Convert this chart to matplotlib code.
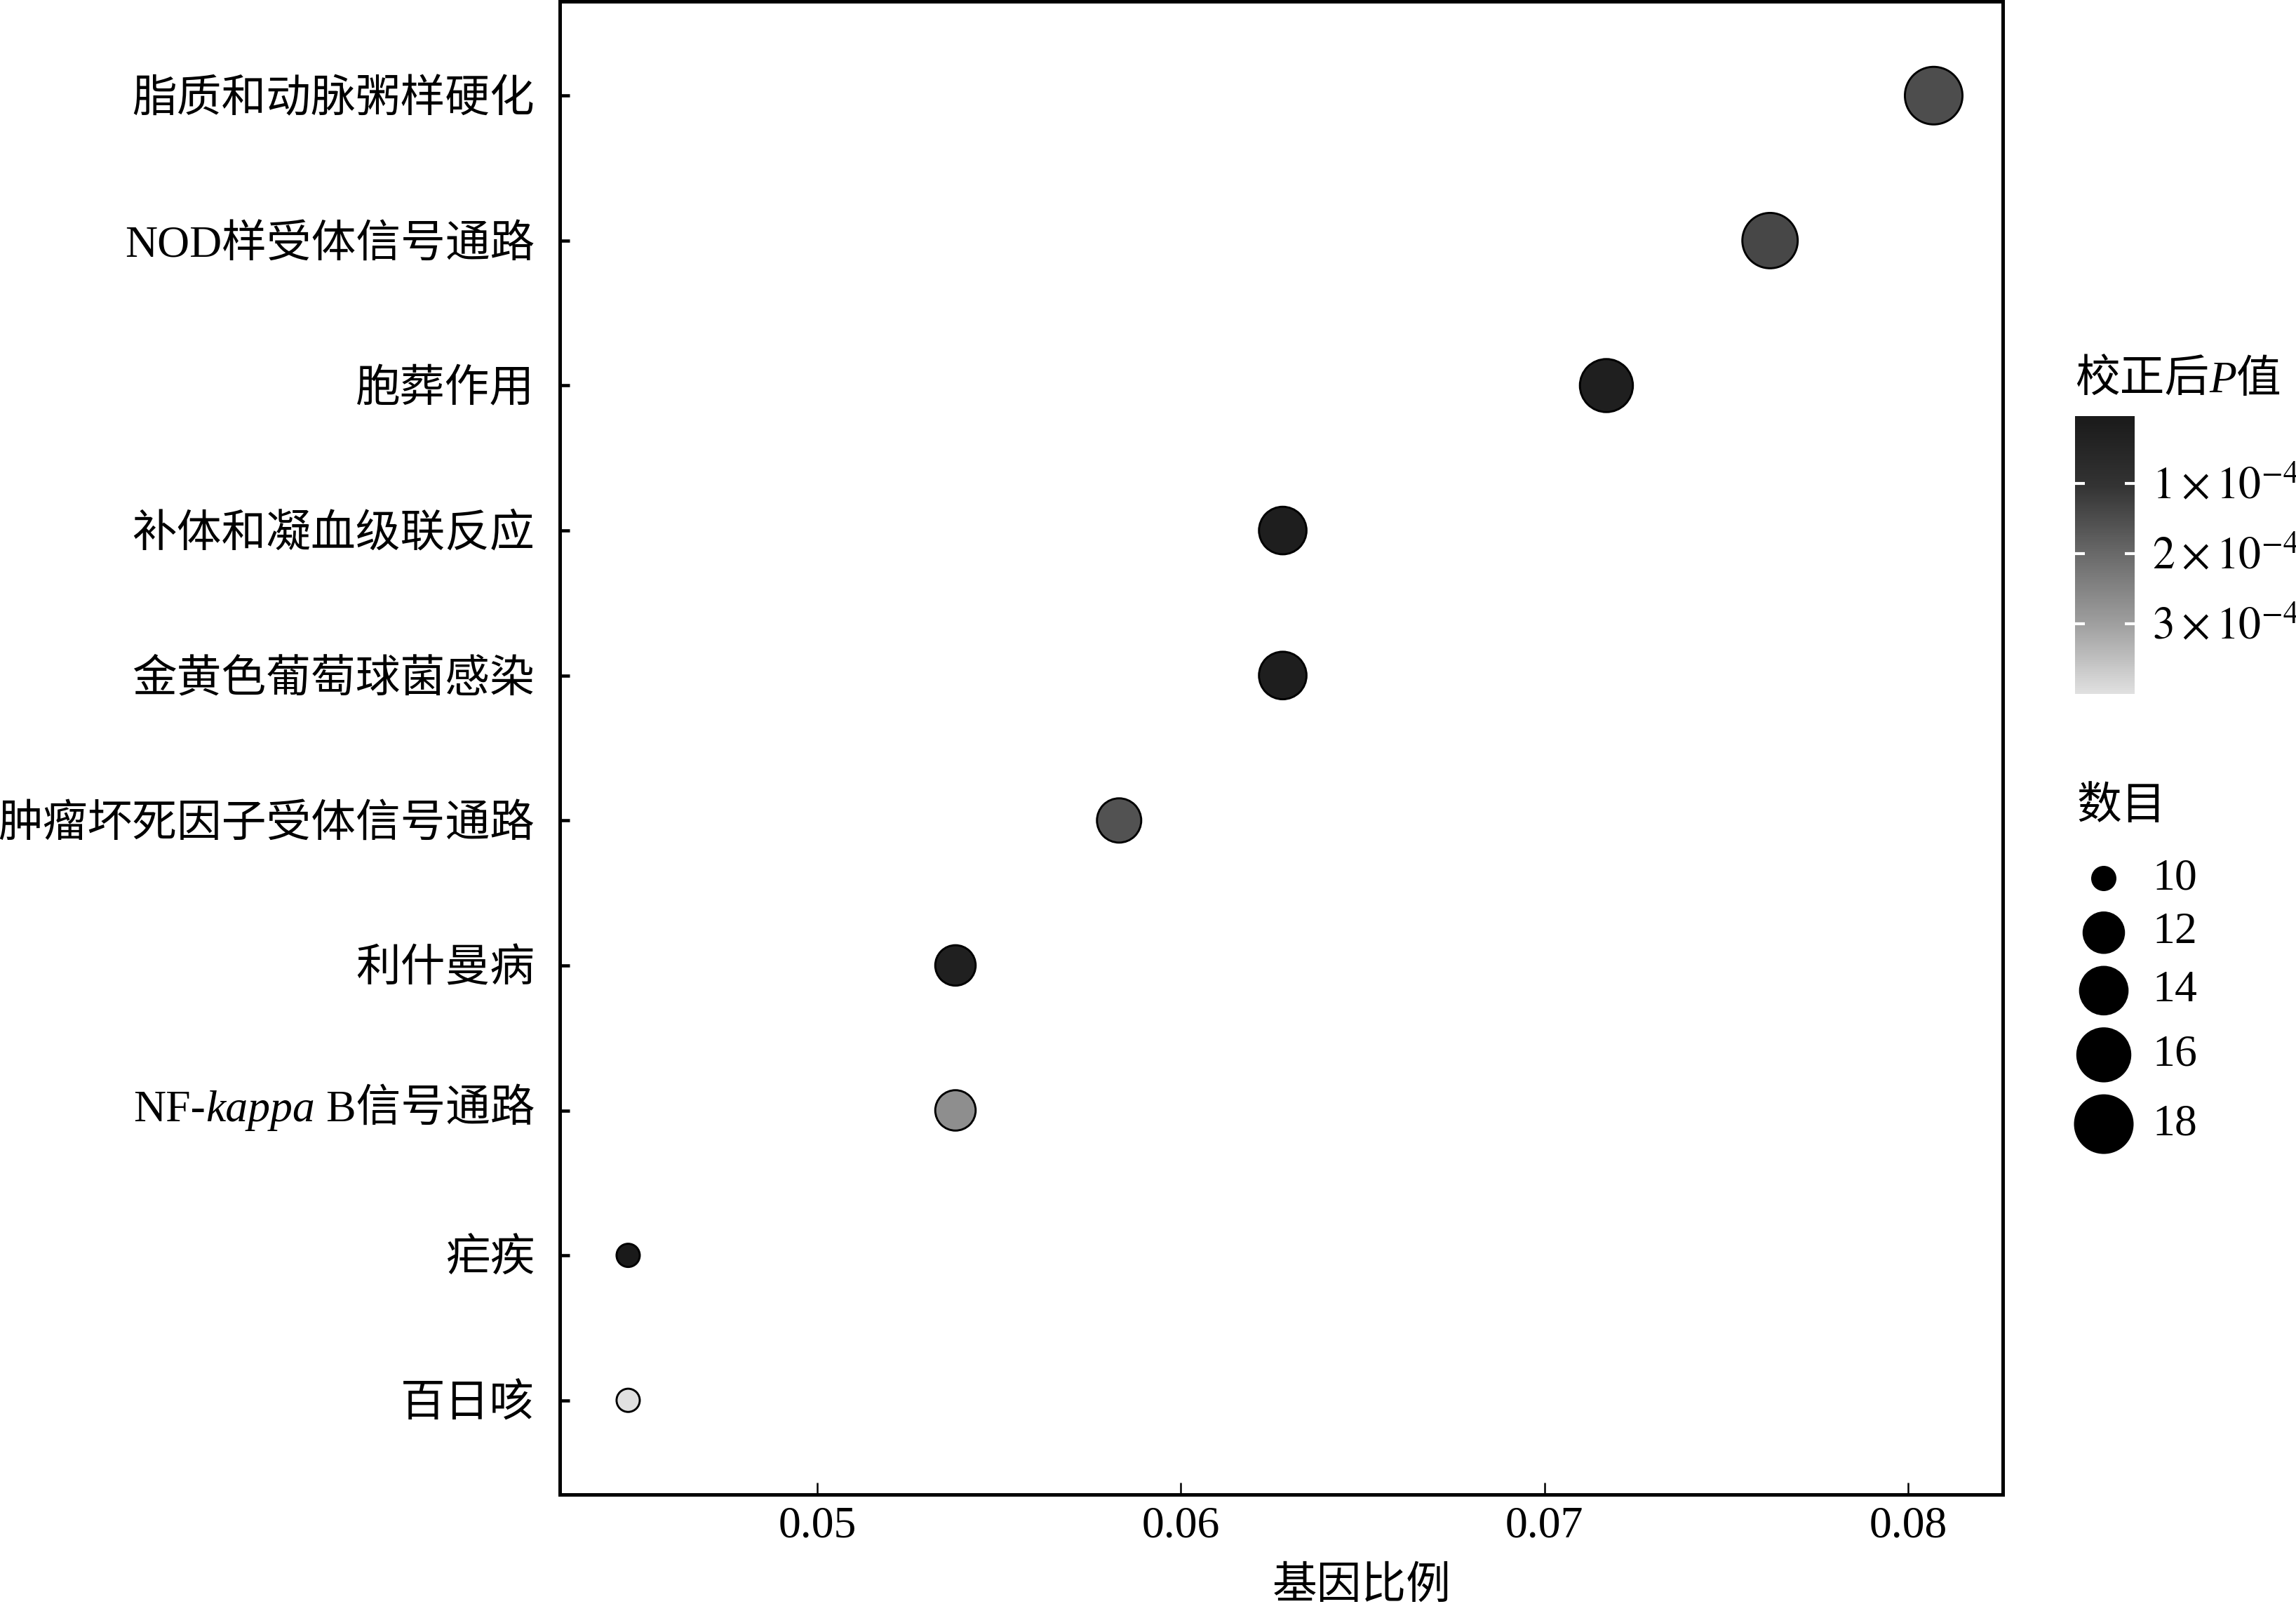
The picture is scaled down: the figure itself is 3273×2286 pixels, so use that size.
import numpy as np
import matplotlib.pyplot as plt
from matplotlib.colors import LinearSegmentedColormap, Normalize
from matplotlib.offsetbox import TextArea, HPacker, AnnotationBbox

plt.rcParams['font.family'] = ['Liberation Serif', 'Noto Sans CJK SC']
plt.rcParams['mathtext.fontset'] = 'stix'

# 数据
pathways = ['脂质和动脉粥样硬化', 'NOD样受体信号通路', '胞葬作用', '补体和凝血级联反应',
            '金黄色葡萄球菌感染', '肿瘤坏死因子受体信号通路', '利什曼病', 'NF-kappa B信号通路',
            '疟疾', '百日咳']
gene_ratio = [0.0807, 0.0762, 0.0717, 0.0628, 0.0628, 0.0583, 0.0538, 0.0538, 0.0448, 0.0448]
counts = [18, 17, 16, 14, 14, 13, 12, 12, 10, 10]
p_adjust = [1.5e-4, 1.4e-4, 2.5e-5, 2.0e-5, 2.2e-5, 1.6e-4, 3.0e-5, 2.7e-4, 4.0e-6, 4.0e-4]
size_breaks = [10, 12, 14, 16, 18]
cbar_ticks = [1e-4, 2e-4, 3e-4]
cbar_labels = [r'$1\times10^{-4}$', r'$2\times10^{-4}$', r'$3\times10^{-4}$']
x_ticks = [0.05, 0.06, 0.07, 0.08]

DPI = 300
FS = 15.3
W, H = 3273, 2286


def diam_px(c):
    # ggplot 风格面积缩放
    c = np.asarray(c, dtype=float)
    return 36 + 49 * np.sqrt((c - min(counts)) / (max(counts) - min(counts)))


def px2pt(v):
    return v * 72 / DPI


fig = plt.figure(figsize=(W / DPI, H / DPI), dpi=DPI)
ax = fig.add_axes([798 / W, 1 - 2130 / H, (2855 - 798) / W, (2130 - 2) / H])

cmap = LinearSegmentedColormap.from_list(
    'grey', ['#1a1a1a', '#333333', '#6a6a6a', '#9f9f9f', '#e0e0e0'])
norm = Normalize(vmin=min(p_adjust), vmax=max(p_adjust))

ypos = np.arange(len(pathways))
edge_lw = 0.7
sizes = (px2pt(diam_px(counts)) - edge_lw) ** 2
sc = ax.scatter(gene_ratio, ypos, s=sizes, c=p_adjust, cmap=cmap, norm=norm,
                edgecolors='black', linewidths=edge_lw, zorder=3)

ax.set_xlim(0.04292, 0.0826)
ax.set_ylim(len(pathways) - 0.35, -0.65)
ax.set_xticks(x_ticks)
ax.set_xticklabels([f'{v:.2f}' for v in x_ticks], fontsize=FS)
ax.set_yticks(ypos)
ylabels = [p if 'kappa' not in p else '' for p in pathways]
ax.set_yticklabels(ylabels, fontsize=FS)

for s in ax.spines.values():
    s.set_linewidth(1.2)
ax.tick_params(axis='y', direction='in', length=3.4, width=1.1, pad=8.6)
ax.tick_params(axis='x', direction='in', length=4, width=0.6, pad=4)

# NF-kappa B 标签 (kappa 斜体)
ypad = 8.6
for i, p in enumerate(pathways):
    if 'kappa' in p:
        parts = [TextArea('NF-', textprops=dict(fontsize=FS)),
                 TextArea('kappa', textprops=dict(fontsize=FS, fontstyle='italic',
                                                   family='Liberation Serif')),
                 TextArea(' B信号通路', textprops=dict(fontsize=FS))]
        box = HPacker(children=parts, align='baseline', pad=0, sep=0)
        ab = AnnotationBbox(box, (0, i), xycoords=('axes fraction', 'data'),
                            xybox=(-ypad, 0), boxcoords='offset points',
                            box_alignment=(1, 0.5), frameon=False, pad=0,
                            annotation_clip=False)
        ax.add_artist(ab)

ax.set_xlabel('基因比例', fontsize=FS, va='center')
ax.xaxis.set_label_coords(0.556, -0.0625)

# 颜色条
cax = fig.add_axes([2958 / W, 1 - 989 / H, (3043 - 2958) / W, (989 - 593) / H])
cb = fig.colorbar(sc, cax=cax)
cb.outline.set_visible(False)
cb.minorticks_off()
cax.invert_yaxis()
cb.set_ticks(cbar_ticks)
cb.set_ticklabels(cbar_labels)
cax.tick_params(direction='in', color='white', length=3.4, width=1.0,
                left=True, right=True, labelsize=FS, pad=6)

title_parts = [TextArea('校正后', textprops=dict(fontsize=FS)),
               TextArea('P', textprops=dict(fontsize=FS, fontstyle='italic',
                                             family='Liberation Serif')),
               TextArea('值', textprops=dict(fontsize=FS))]
tbox = HPacker(children=title_parts, align='baseline', pad=0, sep=0)
tab = AnnotationBbox(tbox, (2958 / W, 1 - 543 / H), xycoords='figure fraction',
                     box_alignment=(0, 0.5), frameon=False, pad=0,
                     annotation_clip=False)
fig.add_artist(tab)

# 数目图例
lax = fig.add_axes([0, 0, 1, 1])
lax.set_xlim(0, W)
lax.set_ylim(H, 0)
lax.axis('off')
lax.text(2960, 1152, '数目', fontsize=FS, va='center', ha='left')
d_leg = diam_px(size_breaks)
row_h = np.maximum(d_leg + 17, 77)
yc = [1252.0]
for k in range(1, len(size_breaks)):
    yc.append(yc[-1] + (row_h[k - 1] + row_h[k]) / 2)
lax.scatter([2999] * len(size_breaks), yc, s=px2pt(d_leg) ** 2,
            color='black', linewidths=0)
for y, b in zip(yc, size_breaks):
    lax.text(3068, y, str(b), fontsize=FS, va='center', ha='left')

fig.savefig('out.png', dpi=DPI)
